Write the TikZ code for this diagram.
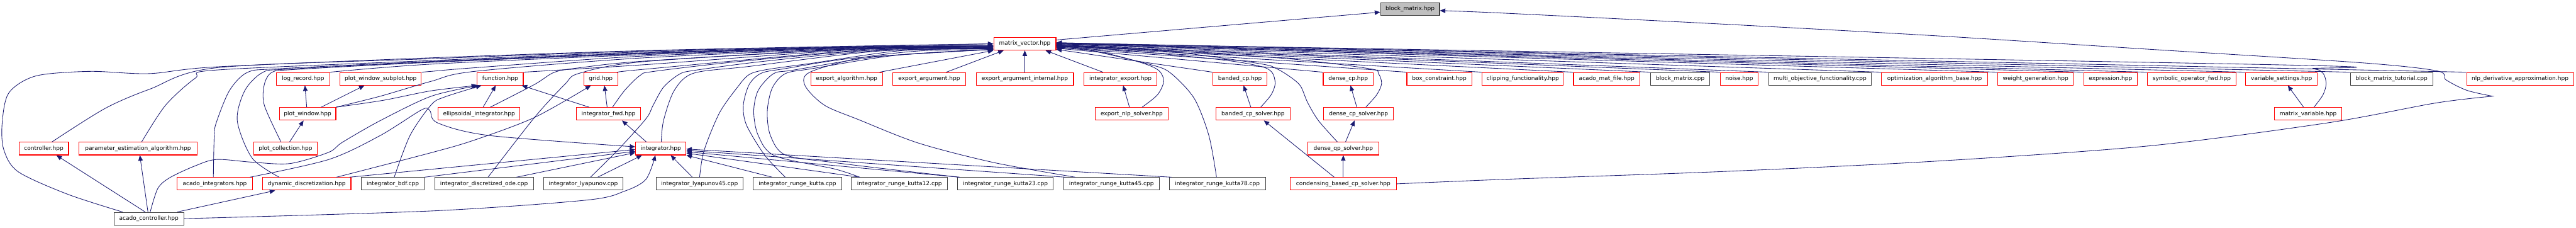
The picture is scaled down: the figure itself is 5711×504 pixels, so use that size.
\documentclass[tikz,border=0pt]{standalone}
\usepackage{fontspec}
\setmainfont{DejaVu Sans}
\usetikzlibrary{arrows.meta}
\definecolor{ecol}{HTML}{191970}
\definecolor{boxred}{HTML}{FF0000}
\definecolor{boxblack}{HTML}{404040}
\definecolor{boxgray}{HTML}{BFBFBF}
\tikzset{
  box/.style={draw, line width=0.75pt, fill=white, minimum height=14pt, inner sep=0pt,
    font=\fontsize{6.3pt}{7.5pt}\selectfont, text=black},
  rbox/.style={box, draw=boxred},
  kbox/.style={box, draw=boxblack},
  gbox/.style={box, draw=boxblack, fill=boxgray},
  edg/.style={draw=ecol, line width=0.6pt, -{Triangle[length=6pt,width=5pt]}},
}
\begin{document}
\begin{tikzpicture}[x=0.5pt,y=-0.5pt]
\useasboundingbox (0,0) rectangle (5711,504);
% row 0 / 1
\node[gbox, minimum width=65.5pt] (bmh) at (3126,20) {block\_matrix.hpp};
\node[rbox, minimum width=69pt] (mv) at (2272,97) {matrix\_vector.hpp};
% row 2
\node[rbox, minimum width=59pt] (logrec) at (672,174.5) {log\_record.hpp};
\node[rbox, minimum width=90pt] (pwsub) at (844,174.5) {plot\_window\_subplot.hpp};
\node[rbox, minimum width=51pt] (func) at (1109,174.5) {function.hpp};
\node[rbox, minimum width=37.5pt] (grid) at (1332,174.5) {grid.hpp};
\node[rbox, minimum width=79.5pt] (expalg) at (1877,174.5) {export\_algorithm.hpp};
\node[rbox, minimum width=81pt] (exparg) at (2060,174.5) {export\_argument.hpp};
\node[rbox, minimum width=108pt] (expargint) at (2272,174.5) {export\_argument\_internal.hpp};
\node[rbox, minimum width=81pt] (intexp) at (2484,174.5) {integrator\_export.hpp};
\node[rbox, minimum width=60pt] (bandcp) at (2749,174.5) {banded\_cp.hpp};
\node[rbox, minimum width=55.5pt] (densecp) at (2989,174.5) {dense\_cp.hpp};
\node[rbox, minimum width=72pt] (boxc) at (3191,174.5) {box\_constraint.hpp};
\node[rbox, minimum width=90pt] (clip) at (3376,174.5) {clipping\_functionality.hpp};
\node[rbox, minimum width=73.5pt] (matfile) at (3562,174.5) {acado\_mat\_file.hpp};
\node[kbox, minimum width=65.5pt] (bmcpp) at (3725,174.5) {block\_matrix.cpp};
\node[rbox, minimum width=42pt] (noise) at (3856,174.5) {noise.hpp};
\node[kbox, minimum width=113.5pt] (multiobj) at (4035,174.5) {multi\_objective\_functionality.cpp};
\node[rbox, minimum width=117.5pt] (optalg) at (4289,174.5) {optimization\_algorithm\_base.hpp};
\node[rbox, minimum width=83.5pt] (weight) at (4513,174.5) {weight\_generation.hpp};
\node[rbox, minimum width=59.5pt] (expr) at (4679,174.5) {expression.hpp};
\node[rbox, minimum width=98pt] (symop) at (4859,174.5) {symbolic\_operator\_fwd.hpp};
\node[rbox, minimum width=79.5pt] (varset) at (5058,174.5) {variable\_settings.hpp};
\node[kbox, minimum width=91.5pt] (bmtut) at (5302,174.5) {block\_matrix\_tutorial.cpp};
\node[rbox, minimum width=118.5pt] (nlpder) at (5587,174.5) {nlp\_derivative\_approximation.hpp};
% row 3
\node[rbox, minimum width=62.5pt] (pwin) at (682,252) {plot\_window.hpp};
\node[rbox, minimum width=90.5pt] (ellip) at (1062,252) {ellipsoidal\_integrator.hpp};
\node[rbox, minimum width=71pt] (intfwd) at (1349,252) {integrator\_fwd.hpp};
\node[rbox, minimum width=80.5pt] (expnlp) at (2509,252) {export\_nlp\_solver.hpp};
\node[rbox, minimum width=82.5pt] (bandsol) at (2778,252) {banded\_cp\_solver.hpp};
\node[rbox, minimum width=77.5pt] (densesol) at (3012,252) {dense\_cp\_solver.hpp};
\node[rbox, minimum width=74pt] (matvar) at (5117,252) {matrix\_variable.hpp};
% row 4
\node[rbox, minimum width=55pt] (ctrl) at (97,329) {controller.hpp};
\node[rbox, minimum width=130.5pt] (paramest) at (306,329) {parameter\_estimation\_algorithm.hpp};
\node[rbox, minimum width=71pt] (plotcoll) at (633,329) {plot\_collection.hpp};
\node[rbox, minimum width=56pt] (integ) at (1465,329) {integrator.hpp};
\node[rbox, minimum width=78.5pt] (denseqp) at (2978,329) {dense\_qp\_solver.hpp};
% row 5
\node[rbox, minimum width=83.5pt] (acadoint) at (476,407) {acado\_integrators.hpp};
\node[rbox, minimum width=98pt] (dyndisc) at (680,407) {dynamic\_discretization.hpp};
\node[kbox, minimum width=69.5pt] (bdf) at (871,407) {integrator\_bdf.cpp};
\node[kbox, minimum width=109.5pt] (discode) at (1073,407) {integrator\_discretized\_ode.cpp};
\node[kbox, minimum width=87.5pt] (lyap) at (1293,407) {integrator\_lyapunov.cpp};
\node[kbox, minimum width=96.5pt] (lyap45) at (1551,407) {integrator\_lyapunov45.cpp};
\node[kbox, minimum width=98pt] (rk) at (1768,407) {integrator\_runge\_kutta.cpp};
\node[kbox, minimum width=106.5pt] (rk12) at (1994,407) {integrator\_runge\_kutta12.cpp};
\node[kbox, minimum width=106pt] (rk23) at (2229,407) {integrator\_runge\_kutta23.cpp};
\node[kbox, minimum width=106pt] (rk45) at (2464,407) {integrator\_runge\_kutta45.cpp};
\node[kbox, minimum width=106.5pt] (rk78) at (2699,407) {integrator\_runge\_kutta78.cpp};
\node[rbox, minimum width=117.5pt] (cond) at (2978,407) {condensing\_based\_cp\_solver.hpp};
% row 6
\node[kbox, minimum width=77.5pt] (acadoctrl) at (330,484) {acado\_controller.hpp};
\coordinate (cusp) at (5526,213);

% ---- edges into block_matrix.hpp
\draw[edg] (mv.7) -- (bmh.186);
\draw[edg] plot[smooth] coordinates {(cond.east) (3336,397) (3812,380) (4288,357) (4764,323) (5160,272) (5400,228) (cusp)}
  -- plot[smooth] coordinates {(cusp) (5469,200) (5423,177) (5403,157) (5236,139) (4764,109) (4288,79) (3812,53) (3332,29) (bmh.357)};

% ---- left edges into matrix_vector.hpp
\draw[edg] plot[smooth] coordinates {([xshift=10pt]acadoctrl.north west) (150,430) (40,380) (8,330) (5,270) (20,205) (80,168) (200,158) (330,163) (480,148) (956,128) (1428,112) (1900,102) (mv.west)};
\draw[edg] plot[smooth] coordinates {([xshift=9pt]ctrl.north) (233,240) (333,197) (480,150) (956,130) (1428,113) (1900,103) (mv.west)};
\draw[edg] plot[smooth] coordinates {([xshift=4pt]paramest.north) (367,233) (433,173) (480,155) (956,134) (1428,115) (1900,104) (mv.183)};
\draw[edg] plot[smooth] coordinates {([xshift=-1.5pt]acadoint.north) (475,300) (480,270) (509,200) (549,160) (620,152) (956,136) (1428,117) (1900,104) (mv.183)};
\draw[edg] plot[smooth] coordinates {([xshift=-5pt]plotcoll.north) (586,233) (586,187) (603,160) (650,154) (956,138) (1428,119) (1900,105) (mv.184)};
\draw[edg] plot[smooth] coordinates {([xshift=-30.5pt]dyndisc.north) (559,350) (526,267) (543,200) (583,160) (640,153) (956,137) (1428,118) (1900,105) (mv.184)};
\draw[edg] plot[smooth] coordinates {(logrec.north east) (956,142) (1428,121) (1900,106) (mv.185)};
\draw[edg] plot[smooth] coordinates {(pwsub.north east) (956,158) (1052,150) (1428,124) (1900,107) (mv.185)};
\draw[edg] plot[smooth] coordinates {(pwin.north east) (843,213) (956,180) (1052,158) (1428,128) (1900,108) (mv.186)};
\draw[edg] plot[smooth] coordinates {(func.north east) (1432,143) (1900,110) (mv.187)};
\draw[edg] plot[smooth] coordinates {([xshift=12.5pt]ellip.north) (1185,187) (1229,160) (1285,150) (1432,135) (1900,108) (mv.186)};
\draw[edg] plot[smooth] coordinates {(grid.north east) (1432,153) (1900,112) (mv.188)};
\draw[edg] plot[smooth] coordinates {([xshift=4.5pt]intfwd.north) (1385,200) (1419,167) (1450,158) (1650,135) (1950,110) (mv.188)};
\draw[edg] plot[smooth] coordinates {([xshift=0.5pt]integ.north) (1471,267) (1495,200) (1538,162) (1661,147) (1950,113) (mv.189)};
\draw[edg] plot[smooth] coordinates {([xshift=4.5pt]discode.north) (1185,260) (1252,187) (1285,162) (1432,136) (1900,109) (mv.186)};
\draw[edg] plot[smooth] coordinates {([xshift=8pt]lyap.north) (1369,333) (1432,263) (1448,233) (1471,193) (1505,165) (1538,156) (1700,135) (1950,112) (mv.188)};
\draw[edg] plot[smooth] coordinates {(lyap45.north) (1561,333) (1595,250) (1635,193) (1661,165) (1700,154) (1800,140) (2000,112) (mv.189)};
\draw[edg] plot[smooth] coordinates {([xshift=-13.5pt]rk.north) (1695,343) (1655,277) (1648,233) (1661,187) (1688,162) (1740,152) (1900,128) (mv.190)};
\draw[edg] plot[smooth] coordinates {([xshift=-44pt]rk12.north) (1850,374) (1718,345) (1681,300) (1671,247) (1681,200) (1715,163) (1760,155) (1950,125) (mv.190)};
\draw[edg] plot[smooth] coordinates {([xshift=-51pt]rk23.north) (2000,378) (1850,360) (1741,343) (1708,300) (1701,247) (1712,195) (1741,163) (1800,152) (1990,122) (mv.190)};
\draw[edg] plot[smooth] coordinates {([xshift=-40pt]rk45.north) (2204,360) (2037,317) (1904,265) (1828,233) (1785,190) (1795,160) (1908,128) (2050,112) (mv.191)};

% ---- edges into matrix_vector.hpp bottom
\draw[edg] ([xshift=-3.5pt]expalg.north east) -- (mv.south west);
\draw[edg] ([xshift=19pt]exparg.north) -- ([xshift=-23.5pt]mv.south);
\draw[edg] (expargint.north) -- (mv.south);
\draw[edg] ([xshift=-19.5pt]intexp.north) -- ([xshift=23pt]mv.south);

% ---- right edges into matrix_vector.hpp
\draw[edg] plot[smooth] coordinates {([xshift=-1pt]rk78.north) (2680,300) (2647,217) (2593,160) (2547,142) (2447,118) (2380,105) (mv.355)};
\draw[edg] plot[smooth] coordinates {([xshift=11.5pt]expnlp.north) (2566,210) (2580,180) (2570,157) (2540,142) (2470,122) (2390,106) (mv.356)};
\draw[edg] plot[smooth] coordinates {([xshift=8.5pt]bandsol.north) (2818,210) (2827,185) (2820,160) (2795,147) (2713,133) (2500,112) (mv.357)};
\draw[edg] plot[smooth] coordinates {([xshift=8pt]densesol.north) (3052,210) (3063,185) (3056,163) (3036,152) (2856,130) (2550,110) (mv.358)};
\draw[edg] plot[smooth] coordinates {([xshift=-6.5pt]denseqp.north) (2923,267) (2899,227) (2883,190) (2860,170) (2830,152) (2793,141) (2600,115) (mv.357)};
\draw[edg] plot[smooth] coordinates {([xshift=6.5pt]matvar.north) (5150,210) (5157,185) (5150,162) (5127,152) (5027,143) (mv.1)};
\draw[edg] (bandcp.north west) -- (mv.350);
\draw[edg] (densecp.north west) -- (mv.352);
\draw[edg] (boxc.north west) -- (mv.353);
\draw[edg] (clip.north west) -- (mv.354);
\draw[edg] (matfile.north west) -- (mv.355);
\draw[edg] (bmcpp.north west) -- (mv.356);
\draw[edg] (noise.north west) -- (mv.357);
\draw[edg] (multiobj.north west) -- (mv.358);
\draw[edg] (optalg.north west) -- (mv.359);
\draw[edg] (weight.north west) -- (mv.0);
\draw[edg] (expr.north west) -- (mv.0);
\draw[edg] (symop.north west) -- (mv.1);
\draw[edg] (varset.north west) -- (mv.1);
\draw[edg] (bmtut.north west) -- (mv.2);
\draw[edg] (nlpder.north west) -- (mv.2);

% ---- plot window group
\draw[edg] ([xshift=-1pt]pwin.north) -- ([xshift=2pt]logrec.south);
\draw[edg] ([xshift=15pt]pwin.north) -- ([xshift=-18pt]pwsub.south);
\draw[edg] ([xshift=4.5pt]plotcoll.north) -- ([xshift=-4.5pt]pwin.south);

% ---- function / grid / integrator_fwd
\draw[edg] plot[smooth] coordinates {(pwin.north east) (850,222) (956,201) (func.south west)};
\draw[edg] plot[smooth] coordinates {([xshift=1.5pt]acadoctrl.north) (350,417) (377,393) (433,367) (480,353) (559,359) (643,362) (729,337) (759,315) (843,267) (956,213) ([xshift=2pt]func.south west)};
\draw[edg] plot[smooth] coordinates {([xshift=1.5pt]bdf.north) (909,300) (956,232) (985,215) ([xshift=5pt]func.south west)};
\draw[edg] ([xshift=4.5pt]ellip.north) -- ([xshift=-5pt]func.south);
\draw[edg] ([xshift=-21.5pt]intfwd.north) -- ([xshift=-2pt]func.south east);
\draw[edg] ([xshift=-1.5pt]intfwd.north) -- ([xshift=4pt]grid.south);
\draw[edg] ([xshift=-16pt]integ.north) -- ([xshift=15pt]intfwd.south);
\draw[edg] plot[smooth] coordinates {([xshift=33pt]dyndisc.north) (956,338) (1052,310) (1185,260) ([xshift=-11pt]grid.south)};

% ---- edges into integrator.hpp
\draw[edg] plot[smooth] coordinates {([xshift=-3pt]acadoint.north east) (729,353) (843,300) (935,243) (953,245) (970,272) (1085,300) (integ.176)};
\draw[edg] ([xshift=-2pt]dyndisc.north east) -- (integ.182);
\draw[edg] (bdf.north east) -- (integ.186);
\draw[edg] ([xshift=36pt]discode.north) -- (integ.189);
\draw[edg] ([xshift=16pt]lyap.north) -- ([xshift=7.5pt]integ.south west);
\draw[edg] plot[smooth] coordinates {(acadoctrl.east) (956,467) (1300,443) (1385,423) (1432,397) ([xshift=-6pt]integ.south)};
\draw[edg] ([xshift=-8pt]lyap45.north) -- ([xshift=11pt]integ.south);
\draw[edg] ([xshift=-28pt]rk.north) -- (integ.south east);
\draw[edg] ([xshift=-44pt]rk12.north) -- (integ.350);
\draw[edg] ([xshift=-51pt]rk23.north) -- (integ.353);
\draw[edg] ([xshift=-51pt]rk45.north) -- (integ.356);
\draw[edg] ([xshift=-51pt]rk78.north) -- (integ.359);

% ---- acado_controller
\draw[edg] ([xshift=-4pt]acadoctrl.north) -- ([xshift=14pt]ctrl.south);
\draw[edg] ([xshift=-1pt]acadoctrl.north) -- ([xshift=2pt]paramest.south);
\draw[edg] ([xshift=31.5pt]acadoctrl.north) -- ([xshift=-35pt]dyndisc.south);

% ---- solver group
\draw[edg] ([xshift=-2.5pt]expnlp.north) -- ([xshift=3pt]intexp.south);
\draw[edg] ([xshift=-2.5pt]bandsol.north) -- ([xshift=4pt]bandcp.south);
\draw[edg] ([xshift=-2pt]densesol.north) -- ([xshift=2.5pt]densecp.south);
\draw[edg] ([xshift=2.5pt]denseqp.north) -- ([xshift=-4.5pt]densesol.south);
\draw[edg] (cond.north) -- (denseqp.south);
\draw[edg] ([xshift=-10pt]cond.north) -- ([xshift=12pt]bandsol.south);
\draw[edg] ([xshift=-5pt]matvar.north) -- ([xshift=7pt]varset.south);
\end{tikzpicture}
\end{document}
